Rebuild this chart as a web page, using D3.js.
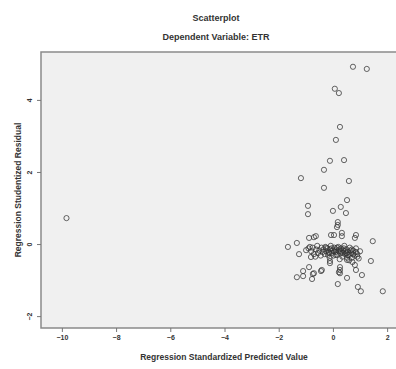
<!DOCTYPE html>
<html>
<head>
<meta charset="utf-8">
<script src="https://cdn.jsdelivr.net/npm/d3@7"></script>
<style>
  body { margin: 0; background: #fff; }
  svg { display: block; }
  text { font-family: "Liberation Sans", Arial, sans-serif; fill: #333; }
</style>
</head>
<body>
<div id="chart"></div>
<script>
  // predicted value (x) vs studentized residual (y)
  const predicted = [
    0.74, 1.25, 0.07, 0.22, 0.26, 0.11, -0.11, 0.41, -0.33, -1.18, 0.59, -0.33, 0.52,
    -0.92, -0.92, 0.00, 0.29, 0.48, 0.18, 0.18, 0.15, -9.83,
    -0.07, 0.04, 0.33, 0.33, 0.85, 0.81, -0.63, -0.70, -0.88, -1.33, -1.66, -1.25, -0.99, -0.85, 1.47, 1.40,
    -0.9, -0.8, -0.75, -0.7, -0.62, -0.58, -0.55, -0.5, -0.45, -0.42, -0.38, -0.35, -0.3, -0.28, -0.25,
    -0.2, -0.18, -0.15, -0.1, -0.08, -0.05, 0, 0.02, 0.05, 0.1, 0.12, 0.15, 0.2, 0.22, 0.28, 0.3, 0.35,
    0.38, 0.42, 0.45, 0.5, 0.52, 0.55, 0.6, 0.62, 0.68, 0.7, 0.75, 0.8, 0.85, 0.9, 0.95, 1.0,
    -0.65, -0.12, 0.25, 0.6, 0.72,
    0.05, 0.15, 0.25, 0.35, 0.45, 0.55, 0.65, 0.75, 0.85, -0.05, -0.15, -0.25, 0.1, 0.3, 0.5, 0.7, 0.9, 0.4,
    -0.81, -0.41, -0.70, -0.88, -1.10, -1.33, -1.10, -0.77, -0.74, -0.44, -0.11, -0.11, 0.26, 0.26, 0.26,
    0.52, 0.81, 0.85, 1.07, 0.52, 0.18, 0.92, 1.03, 1.84, 0.22
  ];
  const residual = [
    4.92, 4.86, 4.31, 4.19, 3.25, 2.89, 2.31, 2.33, 2.06, 1.83, 1.75, 1.56, 1.22,
    1.06, 0.83, 0.92, 1.03, 0.86, 0.61, 0.53, 0.47, 0.72,
    0.25, 0.25, 0.31, 0.22, 0.25, 0.17, 0.22, 0.19, 0.17, 0.03, -0.08, -0.28, -0.17, -0.08, 0.08, -0.47,
    -0.12, -0.2, -0.1, -0.28, -0.15, -0.05, -0.25, -0.18, -0.32, -0.1, -0.22, -0.15, -0.28, -0.08, -0.2,
    -0.12, -0.3, -0.22, -0.15, -0.05, -0.25, -0.18, -0.32, -0.1, -0.22, -0.15, -0.3, -0.08, -0.2, -0.26, -0.12, -0.35,
    -0.18, -0.05, -0.28, -0.15, -0.38, -0.22, -0.3, -0.1, -0.25, -0.38, -0.18, -0.32, -0.12, -0.28, -0.4, -0.2,
    -0.35, -0.38, -0.42, -0.45, -0.5,
    -0.2, -0.1, -0.15, -0.25, -0.2, -0.3, -0.18, -0.28, -0.22, -0.12, -0.25, -0.1, -0.3, -0.2, -0.25, -0.15, -0.35, -0.12,
    -0.36, -0.72, -0.81, -0.64, -0.75, -0.92, -0.89, -0.97, -0.83, -0.75, -0.53, -0.47, -0.64, -0.72, -0.81,
    -0.44, -0.58, -0.72, -0.86, -0.94, -1.11, -1.19, -1.31, -1.31, -0.78
  ];
  const xTicks = [-10, -8, -6, -4, -2, 0, 2];
  const yTicks = [-2, 0, 2, 4];

  const width = 396, height = 369;
  const plot = { left: 41, right: 408, top: 52, bottom: 328 };

  const svg = d3.select("#chart").append("svg")
    .attr("width", width)
    .attr("height", height);

  const xScale = d3.scaleLinear()
    .domain([-10.77, 2.77])
    .range([plot.left, plot.right]);

  const yScale = d3.scaleLinear()
    .domain([-2.33, 5.33])
    .range([plot.bottom, plot.top]);

  // plot background + frame
  svg.append("rect")
    .attr("x", plot.left)
    .attr("y", plot.top)
    .attr("width", plot.right - plot.left)
    .attr("height", plot.bottom - plot.top)
    .attr("fill", "#f0f0f0")
    .attr("stroke", "#8a8a8a")
    .attr("stroke-width", 1.5);

  const xAxis = d3.axisBottom(xScale).tickValues(xTicks).tickSize(4).tickPadding(3);
  const yAxis = d3.axisLeft(yScale).tickValues(yTicks).tickSize(4).tickPadding(2);

  const gx = svg.append("g")
    .attr("transform", `translate(0,${plot.bottom})`)
    .call(xAxis);
  gx.select(".domain").remove();
  gx.selectAll("line").attr("stroke", "#777");
  gx.selectAll("text")
    .style("font-size", "7px")
    .style("font-weight", "bold")
    .attr("fill", "#555");

  const gy = svg.append("g")
    .attr("transform", `translate(${plot.left},0)`)
    .call(yAxis);
  gy.select(".domain").remove();
  gy.selectAll("line").attr("stroke", "#777");
  gy.selectAll("text")
    .style("font-size", "7px")
    .style("font-weight", "bold")
    .attr("fill", "#555")
    .attr("text-anchor", "middle")
    .attr("dy", 0)
    .attr("transform", "translate(-9,0) rotate(-90)")
    .attr("x", 0)
    .attr("y", 0);

  // points
  svg.append("g")
    .selectAll("circle")
    .data(predicted.map((d, i) => ({ x: d, y: residual[i] })))
    .join("circle")
    .attr("cx", d => xScale(d.x))
    .attr("cy", d => yScale(d.y))
    .attr("r", 2.6)
    .attr("fill", "none")
    .attr("stroke", "#333")
    .attr("stroke-opacity", 0.75)
    .attr("stroke-width", 1);

  // titles
  svg.append("text")
    .attr("x", 216).attr("y", 21)
    .attr("text-anchor", "middle")
    .style("font-size", "9px").style("font-weight", "bold")
    .text("Scatterplot");

  svg.append("text")
    .attr("x", 216).attr("y", 40)
    .attr("text-anchor", "middle")
    .style("font-size", "9px").style("font-weight", "bold")
    .text("Dependent Variable: ETR");

  svg.append("text")
    .attr("x", 224).attr("y", 360)
    .attr("text-anchor", "middle")
    .style("font-size", "8.5px").style("font-weight", "bold")
    .text("Regression Standardized Predicted Value");

  svg.append("text")
    .attr("transform", "translate(21,190) rotate(-90)")
    .attr("text-anchor", "middle")
    .style("font-size", "8.5px").style("font-weight", "bold")
    .text("Regression Studentized Residual");
</script>
</body>
</html>
